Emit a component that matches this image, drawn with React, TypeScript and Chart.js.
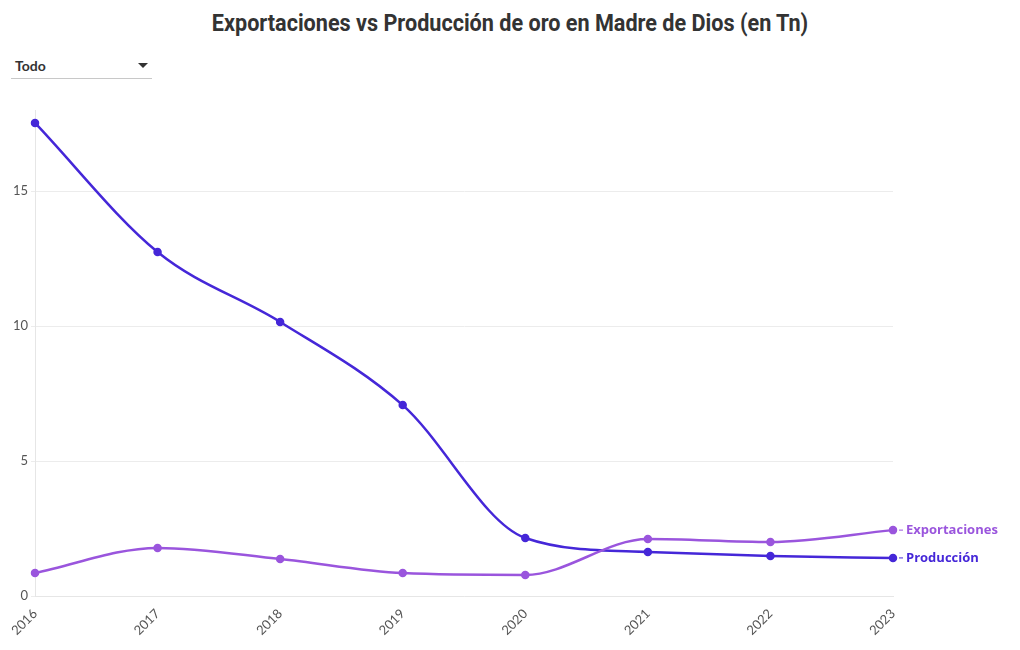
import React, { useEffect, useRef } from "react";
import { Chart, registerables } from "chart.js";

Chart.register(...registerables);

const years = ["2016", "2017", "2018", "2019", "2020", "2021", "2022", "2023"];
const exportaciones = [0.85, 1.78, 1.37, 0.85, 0.78, 2.11, 2.0, 2.44];
const produccion = [17.52, 12.74, 10.15, 7.07, 2.15, 1.63, 1.48, 1.41];
const yTicks = [0, 5, 10, 15];

const COLOR_EXP = "#9a55dd";
const COLOR_PROD = "#4527d8";

const endLabels = {
  id: "endLabels",
  afterDatasetsDraw(chart: any) {
    const ctx = chart.ctx;
    ctx.save();
    chart.data.datasets.forEach((ds: any, i: number) => {
      const meta = chart.getDatasetMeta(i);
      const pt = meta.data[meta.data.length - 1];
      if (!pt) return;
      ctx.strokeStyle = ds.borderColor;
      ctx.lineWidth = 1;
      ctx.beginPath();
      ctx.moveTo(pt.x + 6, pt.y);
      ctx.lineTo(pt.x + 10, pt.y);
      ctx.stroke();
      ctx.fillStyle = ds.borderColor;
      ctx.font = "bold 13px 'Open Sans'";
      ctx.textBaseline = "middle";
      ctx.textAlign = "left";
      ctx.fillText(ds.label, pt.x + 13, pt.y);
    });
    ctx.restore();
  },
};

export default function App() {
  const ref = useRef<HTMLCanvasElement>(null);
  useEffect(() => {
    if (!ref.current) return;
    const chart = new Chart(ref.current, {
      type: "line",
      data: {
        labels: years,
        datasets: [
          {
            label: "Exportaciones",
            data: exportaciones,
            borderColor: COLOR_EXP,
            backgroundColor: COLOR_EXP,
            borderWidth: 2.5,
            pointRadius: 3,
            cubicInterpolationMode: "monotone",
          },
          {
            label: "Producción",
            data: produccion,
            borderColor: COLOR_PROD,
            backgroundColor: COLOR_PROD,
            borderWidth: 2.5,
            pointRadius: 3,
            cubicInterpolationMode: "monotone",
          },
        ],
      },
      options: {
        animation: false,
        responsive: false,
        maintainAspectRatio: false,
        layout: { padding: { top: 110, right: 127, left: 0, bottom: 0 } },
        plugins: {
          legend: { display: false },
          tooltip: { enabled: false },
          title: { display: false },
        },
        scales: {
          x: {
            afterFit: (s: any) => {
              s.height = 54;
            },
            grid: { display: false, drawTicks: true },
            border: { color: "#e6e6e6" },
            ticks: {
              minRotation: 45,
              maxRotation: 45,
              color: "#555",
              font: { family: "Lato", size: 13 },
              padding: 2,
            },
          },
          y: {
            min: 0,
            max: 18,
            afterFit: (s: any) => {
              s.width = 35;
            },
            afterBuildTicks: (s: any) => {
              s.ticks = yTicks.map((v) => ({ value: v }));
            },
            grid: { color: "#ececec", tickLength: 4 },
            border: { color: "#e6e6e6" },
            ticks: {
              color: "#555",
              font: { family: "Lato", size: 13 },
              padding: 3,
            },
          },
        },
      },
      plugins: [endLabels],
    });
    return () => chart.destroy();
  }, []);

  return (
    <div
      style={{
        position: "absolute",
        left: 0,
        top: 0,
        width: 1020,
        height: 650,
        background: "#fff",
        fontFamily: "Lato",
      }}
    >
      <div
        style={{
          position: "absolute",
          left: 0,
          top: 9,
          width: 1020,
          textAlign: "center",
          fontFamily: "Roboto",
          fontWeight: 700,
          fontSize: 24,
          color: "#333",
          transform: "scaleX(0.9)",
          transformOrigin: "510px 0",
          whiteSpace: "nowrap",
        }}
      >
        Exportaciones vs Producción de oro en Madre de Dios (en Tn)
      </div>
      <div
        style={{
          position: "absolute",
          left: 11,
          top: 56,
          width: 141,
          height: 22,
          borderBottom: "1px solid #c8c8c8",
        }}
      >
        <span
          style={{
            position: "absolute",
            left: 4,
            top: 1,
            fontFamily: "Lato",
            fontWeight: 700,
            fontSize: 14,
            color: "#333",
          }}
        >
          Todo
        </span>
        <span
          style={{
            position: "absolute",
            left: 127,
            top: 7,
            width: 0,
            height: 0,
            borderLeft: "5px solid transparent",
            borderRight: "5px solid transparent",
            borderTop: "5px solid #333",
          }}
        />
      </div>
      <canvas
        ref={ref}
        width={1020}
        height={650}
        style={{ position: "absolute", left: 0, top: 0 }}
      />
    </div>
  );
}
